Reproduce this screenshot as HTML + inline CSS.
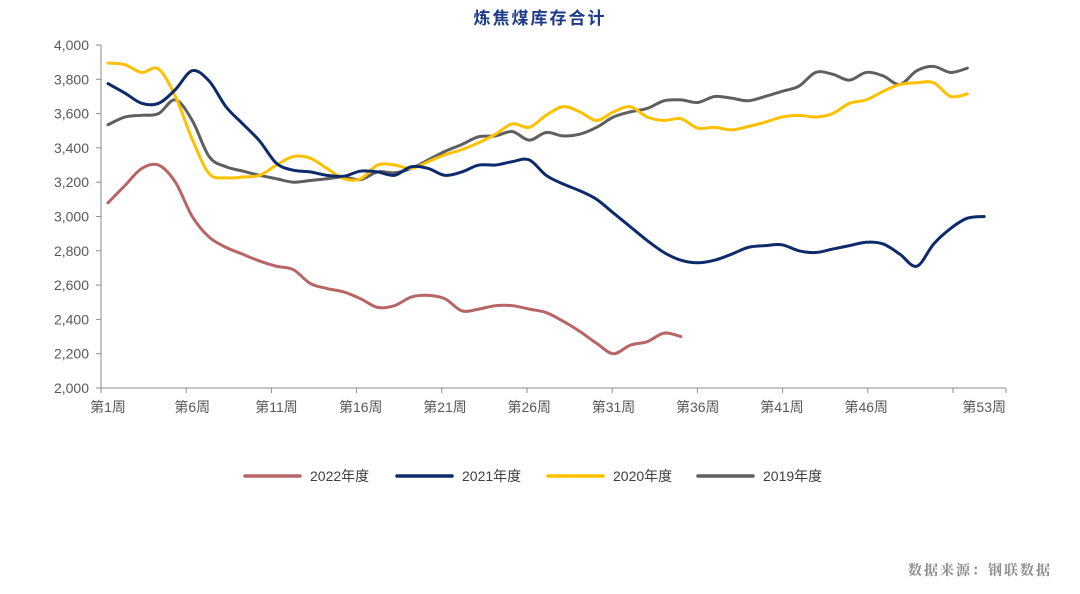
<!DOCTYPE html>
<html><head><meta charset="utf-8"><style>
body{margin:0;background:#fff;}
svg{display:block;font-family:"Liberation Sans","Noto Sans CJK SC",sans-serif;}
</style></head><body>
<svg id="chart" width="1080" height="594" viewBox="0 0 1080 594" xmlns="http://www.w3.org/2000/svg">
<text x="540" y="24" text-anchor="middle" font-size="17" font-weight="bold" fill="#1f3c88" letter-spacing="2">炼焦煤库存合计</text>
<g id="axes"></g>
<g id="series"></g>
<g id="legend"></g>
<text x="1052" y="575" text-anchor="end" font-size="14" font-weight="bold" fill="#8a8a8a" font-family="'Noto Serif CJK SC','Liberation Serif',serif" letter-spacing="2">数据来源：钢联数据</text>
</svg>
<script>
const yTicks=[2000,2200,2400,2600,2800,3000,3200,3400,3600,3800,4000];
const xLabelWeeks=[1,6,11,16,21,26,31,36,41,46,53];
const seriesNames=["2022年度","2021年度","2020年度","2019年度"];
const s2022=[3080,3180,3280,3300,3200,3000,2880,2820,2780,2740,2710,2690,2610,2580,2560,2520,2470,2480,2530,2540,2520,2450,2460,2480,2480,2460,2440,2390,2330,2260,2200,2250,2270,2320,2300];
const s2021=[3775,3720,3660,3660,3740,3850,3790,3640,3540,3440,3310,3270,3260,3240,3235,3265,3260,3240,3290,3280,3240,3260,3300,3300,3320,3330,3240,3190,3150,3100,3020,2940,2860,2790,2745,2730,2745,2780,2820,2830,2835,2800,2790,2810,2830,2850,2840,2780,2710,2840,2930,2990,3000];
const s2020=[3895,3885,3840,3860,3700,3450,3250,3225,3230,3240,3300,3350,3340,3280,3220,3220,3300,3300,3280,3320,3360,3390,3430,3480,3540,3520,3590,3640,3610,3560,3610,3640,3580,3560,3570,3515,3520,3505,3525,3550,3580,3590,3580,3600,3660,3680,3730,3770,3780,3780,3700,3715];
const s2019=[3535,3580,3590,3600,3680,3560,3350,3290,3265,3240,3220,3200,3210,3220,3230,3215,3260,3255,3280,3330,3380,3420,3465,3470,3495,3445,3490,3470,3480,3520,3580,3610,3630,3675,3680,3665,3700,3690,3675,3700,3730,3760,3840,3830,3795,3840,3820,3770,3850,3875,3840,3865];
const colors=["#b86565","#0d2a6b","#ffc000","#5f5f5f"];
const NS="http://www.w3.org/2000/svg";
const yScale=v=>388-(v-2000)/2000*343;
const xScale=w=>108+(w-1)*16.85;
function mk(tag,attrs,parent){const e=document.createElementNS(NS,tag);for(const k in attrs)e.setAttribute(k,attrs[k]);parent.appendChild(e);return e;}
const axes=document.getElementById('axes');
let ya=mk('line',{x1:101,y1:45,x2:101,y2:388,stroke:'#8c8c8c','stroke-width':1},axes);


let xa=mk('line',{x1:101,y1:388,x2:1006,y2:388,stroke:'#8c8c8c','stroke-width':1},axes);


yTicks.forEach(v=>{
 const y=yScale(v);
 mk('line',{x1:96,y1:y,x2:101,y2:y,stroke:'#8c8c8c'},axes);
 const t=mk('text',{x:89,y:y+5,'text-anchor':'end','font-size':14,fill:'#595959'},axes);
 t.textContent=v.toLocaleString('en-US');
 
 
});
for(let i=0;i<=10;i++){const x=101+i*85.2;mk('line',{x1:x,y1:388,x2:x,y2:393,stroke:'#8c8c8c'},axes);}
mk('line',{x1:1006,y1:388,x2:1006,y2:393,stroke:'#8c8c8c'},axes);
xLabelWeeks.forEach(w=>{
 const t=mk('text',{x:xScale(w),y:412,'text-anchor':'middle','font-size':14,fill:'#595959'},axes);
 t.textContent='第'+w+'周';
 
 
});
function smooth(pts){
 let d='M'+pts[0][0]+','+pts[0][1];
 for(let i=0;i<pts.length-1;i++){
  const p0=pts[i-1]||pts[i],p1=pts[i],p2=pts[i+1],p3=pts[i+2]||p2;
  const c1=[p1[0]+(p2[0]-p0[0])/6,p1[1]+(p2[1]-p0[1])/6];
  const c2=[p2[0]-(p3[0]-p1[0])/6,p2[1]-(p3[1]-p1[1])/6];
  d+=' C'+c1.join(',')+' '+c2.join(',')+' '+p2.join(',');
 }
 return d;
}
const sg=document.getElementById('series');
const allSeries=[s2019,s2020,s2021,s2022];
const order=[3,2,1,0];
order.forEach((idx,j)=>{
 const data=allSeries[j];
 const pts=data.map((v,i)=>[xScale(i+1),yScale(v)]);
 const p=mk('path',{d:smooth(pts),fill:'none',stroke:colors[idx],'stroke-width':3,'stroke-linejoin':'round','stroke-linecap':'round'},sg);
 
 
});
const lg=document.getElementById('legend');
const lx=[245,397,548,698];
seriesNames.forEach((n,i)=>{
 const g=mk('g',{},lg);
 
 
 mk('line',{x1:lx[i],y1:476,x2:lx[i]+55,y2:476,stroke:colors[i],'stroke-width':3.5,'stroke-linecap':'round'},g);
 const t=mk('text',{x:lx[i]+65,y:481,'font-size':14,fill:'#404040'},g);
 t.textContent=n;
});
</script>
</body></html>
